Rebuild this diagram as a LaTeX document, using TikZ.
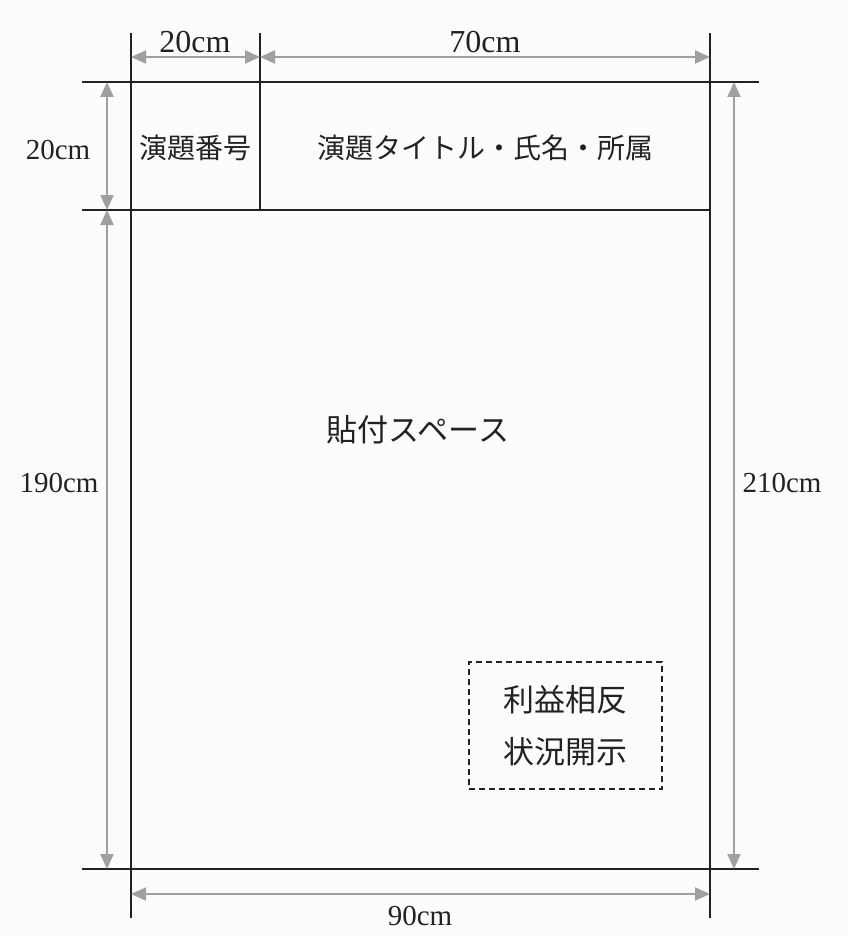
\documentclass[tikz,border=0pt]{standalone}
\usepackage{fontspec}
\setmainfont{Liberation Serif}
\newfontfamily\jpfont{Noto Sans CJK JP}
\usetikzlibrary{arrows.meta}
\definecolor{bgc}{RGB}{253,251,252}
\definecolor{dimgray}{RGB}{160,160,160}
\definecolor{ink}{RGB}{34,34,34}
\tikzset{
  frame/.style={line width=1.5pt, ink},
  dimline/.style={line width=2pt, dimgray, {Triangle[length=15pt,width=13pt]}-{Triangle[length=15pt,width=13pt]}},
  dimlabel/.style={font=\fontsize{29}{31}\selectfont, text=ink, inner sep=0pt},
  toplabel/.style={font=\fontsize{32}{34}\selectfont, text=ink, inner sep=0pt},
  jplabel/.style={font=\jpfont\fontsize{28}{32}\selectfont, text=ink, inner sep=0pt},
  biglabel/.style={font=\jpfont\fontsize{31}{52}\selectfont, text=ink, inner sep=0pt, align=center},
}
\begin{document}
\begin{tikzpicture}[x=1pt,y=-1pt]
\fill[bgc] (0,0) rectangle (848,936);
\useasboundingbox (0,0) rectangle (848,936);
% frame lines
\draw[frame] (131,33) -- (131,918);
\draw[frame] (260,33) -- (260,210);
\draw[frame] (710,33) -- (710,918);
\draw[frame] (82,82) -- (759,82);
\draw[frame] (82,210) -- (710,210);
\draw[frame] (82,869) -- (759,869);
% dimension endpoints
\coordinate (t1) at (131,57);
\coordinate (t2) at (260,57);
\coordinate (t3) at (710,57);
\coordinate (l1) at (107,82);
\coordinate (l2) at (107,210);
\coordinate (l3) at (107,869);
\coordinate (r1) at (734,82);
\coordinate (r2) at (734,869);
\coordinate (b1) at (131,894);
\coordinate (b2) at (710,894);
\draw[dimline] (t1) -- (t2);
\draw[dimline] (t2) -- (t3);
\draw[dimline] (l1) -- (l2);
\draw[dimline] (l2) -- (l3);
\draw[dimline] (r1) -- (r2);
\draw[dimline] (b1) -- (b2);
% dimension labels
\node[toplabel] (d20a) at (195,42) {20cm};
\node[toplabel] (d70) at (485,42) {70cm};
\node[dimlabel] (d20b) at (58,150) {20cm};
\node[dimlabel] (d190) at (59,483) {190cm};
\node[dimlabel] (d210) at (782,483) {210cm};
\node[dimlabel] (d90) at (420,916) {90cm};
% content labels
\node[jplabel] (num) at (195,148) {演題番号};
\node[jplabel] (title) at (485,148) {演題タイトル・氏名・所属};
\node[biglabel] (space) at (418,430) {貼付スペース};
\node[biglabel, draw=ink, dash pattern=on 6pt off 4pt, line width=1.5pt,
      minimum width=193pt, minimum height=127pt] (coi) at (565.5,725.5) {利益相反\\状況開示};
\end{tikzpicture}
\end{document}
